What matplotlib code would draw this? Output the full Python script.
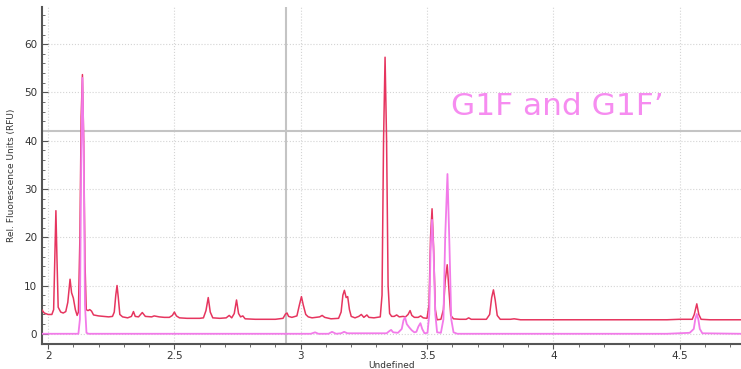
import matplotlib
matplotlib.use("Agg")
import matplotlib.pyplot as plt
from matplotlib.ticker import MultipleLocator

# red trace (time, RFU)
red_t = [1.976, 1.985, 2.000, 2.015, 2.022, 2.027, 2.031, 2.035, 2.040, 2.050,
         2.060, 2.070, 2.078, 2.087, 2.093, 2.100, 2.108, 2.115, 2.120, 2.126,
         2.131, 2.136, 2.141, 2.146, 2.151, 2.158, 2.165, 2.172, 2.180, 2.200,
         2.220, 2.240, 2.255, 2.262, 2.268, 2.273, 2.278, 2.284, 2.295, 2.315,
         2.330, 2.338, 2.345, 2.358, 2.373, 2.385, 2.410, 2.420, 2.440, 2.460,
         2.480, 2.492, 2.500, 2.508, 2.520, 2.550, 2.580, 2.600, 2.615, 2.625,
         2.634, 2.642, 2.652, 2.680, 2.705, 2.717, 2.727, 2.737, 2.746, 2.754,
         2.762, 2.771, 2.780, 2.820, 2.860, 2.900, 2.930, 2.940, 2.946, 2.952,
         2.965, 2.985, 2.995, 3.003, 3.010, 3.020, 3.030, 3.045, 3.060, 3.075,
         3.085, 3.095, 3.120, 3.150, 3.160, 3.167, 3.173, 3.180, 3.186, 3.193,
         3.200, 3.215, 3.230, 3.240, 3.250, 3.262, 3.270, 3.290, 3.315, 3.322,
         3.328, 3.334, 3.340, 3.346, 3.352, 3.360, 3.370, 3.380, 3.390, 3.405,
         3.415, 3.425, 3.433, 3.440, 3.450, 3.465, 3.475, 3.485, 3.500, 3.508,
         3.514, 3.520, 3.526, 3.533, 3.540, 3.555, 3.565, 3.572, 3.580, 3.587,
         3.594, 3.605, 3.630, 3.655, 3.665, 3.675, 3.700, 3.735, 3.748, 3.756,
         3.763, 3.770, 3.778, 3.790, 3.830, 3.845, 3.870, 3.950, 4.100, 4.300,
         4.450, 4.500, 4.550, 4.558, 4.568, 4.576, 4.585, 4.620, 4.743]
red_rfu = [4.9, 4.3, 4.0, 4.0, 5.0, 16.0, 25.5, 16.0, 5.5, 4.5,
           4.3, 4.6, 6.5, 11.3, 8.5, 7.4, 5.0, 3.8, 4.5, 20.0,
           45.0, 53.7, 40.0, 15.0, 5.0, 4.8, 5.0, 4.7, 3.9, 3.7,
           3.6, 3.5, 3.6, 4.5, 8.0, 10.0, 7.5, 4.0, 3.5, 3.3,
           3.6, 4.6, 3.6, 3.5, 4.4, 3.6, 3.5, 3.7, 3.5, 3.4,
           3.4, 3.8, 4.5, 3.7, 3.3, 3.2, 3.2, 3.2, 3.3, 4.8,
           7.5, 4.5, 3.3, 3.2, 3.3, 3.8, 3.3, 4.2, 7.0, 4.2,
           3.5, 3.7, 3.1, 3.0, 3.0, 3.0, 3.2, 4.1, 4.3, 3.6,
           3.4, 3.7, 6.0, 7.7, 6.0, 4.0, 3.5, 3.3, 3.4, 3.5,
           3.8, 3.4, 3.1, 3.2, 4.5, 8.0, 9.0, 7.5, 7.7, 5.0,
           3.6, 3.3, 3.6, 4.0, 3.4, 3.9, 3.4, 3.3, 3.5, 8.0,
           40.0, 57.3, 40.0, 10.0, 4.2, 3.6, 3.6, 3.9, 3.5, 3.6,
           3.5, 4.0, 4.8, 3.8, 3.4, 3.4, 3.7, 3.3, 3.2, 6.0,
           20.0, 25.9, 18.0, 5.0, 2.9, 3.0, 5.0, 11.0, 14.3, 9.0,
           3.8, 3.1, 3.0, 3.0, 3.3, 3.0, 3.0, 3.0, 4.0, 7.5,
           9.1, 7.0, 3.8, 3.0, 3.0, 3.1, 2.9, 2.9, 2.9, 2.9,
           2.9, 3.0, 3.0, 4.0, 6.2, 4.0, 3.0, 2.9, 2.9]

# pink trace (G1F / G1F')
pink_t = [1.976, 2.120, 2.126, 2.131, 2.136, 2.141, 2.146, 2.152, 2.160, 3.040,
          3.057, 3.070, 3.110, 3.124, 3.140, 3.160, 3.172, 3.185, 3.340, 3.352,
          3.358, 3.366, 3.385, 3.400, 3.407, 3.413, 3.420, 3.430, 3.440, 3.450,
          3.458, 3.466, 3.474, 3.481, 3.490, 3.502, 3.509, 3.514, 3.520, 3.526,
          3.533, 3.540, 3.555, 3.565, 3.572, 3.581, 3.589, 3.596, 3.605, 3.620,
          4.450, 4.540, 4.556, 4.562, 4.568, 4.574, 4.580, 4.590, 4.743]
pink_rfu = [0.0, 0.0, 3.0, 35.0, 53.0, 38.0, 6.0, 0.2, 0.0, 0.0,
            0.3, 0.0, 0.0, 0.4, 0.0, 0.1, 0.4, 0.1, 0.1, 0.6,
            0.8, 0.3, 0.2, 1.0, 2.8, 3.4, 2.0, 1.3, 0.7, 0.3,
            0.4, 1.5, 2.2, 1.0, 0.1, 0.2, 4.0, 17.0, 23.6, 17.0,
            4.0, 0.3, 0.2, 3.0, 20.0, 33.1, 18.0, 3.0, 0.3, 0.0,
            0.0, 0.2, 1.0, 3.0, 4.1, 3.0, 1.0, 0.1, 0.0]

hline_y = 42
vline_x = 2.941

fig = plt.figure(figsize=(7.41, 3.69), dpi=100)
ax = fig.add_axes([0.0567, 0.068, 0.9433, 0.913])

ax.plot(red_t, red_rfu, color="#e6355f", lw=1.1, zorder=3)
ax.plot(pink_t, pink_rfu, color="#f27be9", lw=1.3, zorder=4)

ax.axhline(hline_y, color="#c4c4c4", lw=1.5, zorder=2)
ax.axvline(vline_x, color="#c4c4c4", lw=1.5, zorder=2)

ax.text(4.015, 47, "G1F and G1F\u2019", color="#f68cf0", fontsize=22.5,
        ha="center", va="center", zorder=5)

ax.set_xlim(1.976, 4.743)
ax.set_ylim(-2.1, 67.7)
ax.xaxis.set_major_locator(MultipleLocator(0.5))
ax.xaxis.set_minor_locator(MultipleLocator(0.1))
ax.yaxis.set_major_locator(MultipleLocator(10))
ax.yaxis.set_minor_locator(MultipleLocator(2))
ax.set_xticks([2, 2.5, 3, 3.5, 4, 4.5])
ax.set_xticklabels(["2", "2.5", "3", "3.5", "4", "4.5"])

ax.grid(True, which="major", color="#d4d4d4", ls=":", lw=0.8, zorder=0)
for s in ["top", "right"]:
    ax.spines[s].set_visible(False)
for s in ["left", "bottom"]:
    ax.spines[s].set_color("#555555")
    ax.spines[s].set_linewidth(1.5)

ax.tick_params(axis="x", which="both", direction="out", colors="#555555",
               labelcolor="#333333", labelsize=7.5, pad=1.5)
ax.tick_params(axis="x", which="major", length=3.5)
ax.tick_params(axis="x", which="minor", length=2.5)
ax.tick_params(axis="y", which="both", direction="in", colors="#555555",
               labelcolor="#333333", labelsize=7.5)
ax.tick_params(axis="y", which="major", length=4)
ax.tick_params(axis="y", which="minor", length=2.5)

ax.set_xlabel("Undefined", fontsize=6.5, color="#333333", labelpad=0)
ax.set_ylabel("Rel. Fluorescence Units (RFU)", fontsize=6.5, color="#333333", labelpad=6)

fig.savefig("out.png", dpi=100)
